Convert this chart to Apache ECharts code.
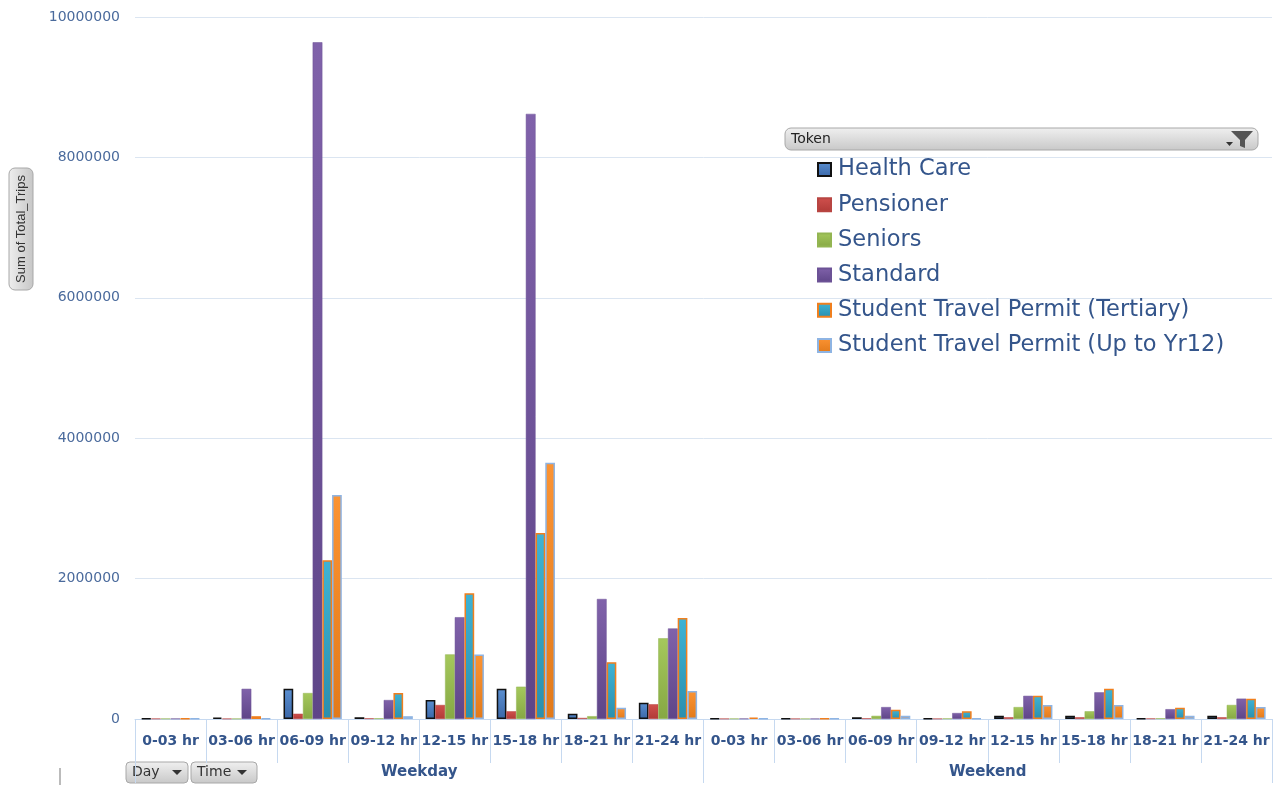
<!DOCTYPE html>
<html>
<head>
<meta charset="utf-8">
<title>Sum of Total_Trips by Token</title>
<script src="https://cdn.jsdelivr.net/npm/echarts@6/dist/echarts.min.js"></script>
<style>
  html, body { margin: 0; padding: 0; background: #ffffff; }
  #chart { width: 1283px; height: 785px; }
</style>
</head>
<body>
<div id="chart"></div>
<script>
// Time-of-day buckets, repeated for each day group
const timeSlots = ['0-03 hr', '03-06 hr', '06-09 hr', '09-12 hr', '12-15 hr', '15-18 hr', '18-21 hr', '21-24 hr'];
const dayGroups = ['Weekday', 'Weekend'];
const categories = dayGroups.flatMap(() => timeSlots);

const tokenNames = [
  'Health Care',
  'Pensioner',
  'Seniors',
  'Standard',
  'Student Travel Permit (Tertiary)',
  'Student Travel Permit (Up to Yr12)'
];

// Sum of Total_Trips: Weekday slots first, then Weekend slots
const healthCare = [8000, 20000, 430000, 25000, 270000, 430000, 75000, 230000, 8000, 6000, 25000, 10000, 45000, 45000, 10000, 45000];
const pensioner  = [6000, 5000, 75000, 10000, 200000, 110000, 15000, 210000, 5000, 5000, 10000, 5000, 25000, 25000, 8000, 25000];
const seniors    = [6000, 5000, 370000, 10000, 920000, 460000, 40000, 1150000, 6000, 5000, 45000, 8000, 170000, 110000, 10000, 200000];
const standard   = [6000, 430000, 9640000, 270000, 1450000, 8620000, 1710000, 1290000, 6000, 5000, 170000, 85000, 330000, 380000, 140000, 290000];
const tertiary   = [6000, 40000, 2260000, 370000, 1790000, 2650000, 810000, 1440000, 20000, 5000, 130000, 110000, 330000, 430000, 160000, 290000];
const upToYr12   = [6000, 10000, 3190000, 40000, 920000, 3650000, 160000, 400000, 6000, 5000, 45000, 10000, 200000, 200000, 45000, 170000];

const seriesValues = [healthCare, pensioner, seniors, standard, tertiary, upToYr12];

// Fill gradients and outlines per token
const barStyles = [
  { top: '#5b8fd0', bottom: '#3a67a8', border: '#111111', width: 1.5 },
  { top: '#d0504d', bottom: '#b03a37', border: '#b84542', width: 0.5 },
  { top: '#a5c85c', bottom: '#86a844', border: '#93b552', width: 0.5 },
  { top: '#8062aa', bottom: '#5e4588', border: '#6c5296', width: 0.5 },
  { top: '#3fb3d4', bottom: '#2a8fae', border: '#f07f1e', width: 1.5 },
  { top: '#fb9333', bottom: '#e27a1a', border: '#8eb4e3', width: 1.5 }
];

const chart = echarts.init(document.getElementById('chart'), null, { renderer: 'canvas' });

const series = tokenNames.map((name, i) => ({
  name: name,
  type: 'bar',
  xAxisIndex: 0,
  yAxisIndex: 0,
  barGap: '0%',
  barCategoryGap: '18%',
  data: seriesValues[i],
  itemStyle: {
    color: new echarts.graphic.LinearGradient(0, 0, 0, 1, [
      { offset: 0, color: barStyles[i].top },
      { offset: 1, color: barStyles[i].bottom }
    ]),
    borderColor: barStyles[i].border,
    borderWidth: barStyles[i].width
  },
  emphasis: { disabled: true }
}));

const btnGradient = new echarts.graphic.LinearGradient(0, 0, 0, 1, [
  { offset: 0, color: '#f0f0f0' },
  { offset: 1, color: '#c8c8c8' }
]);

function button(x, y, w, h, label, arrowX) {
  return {
    type: 'group',
    children: [
      { type: 'rect', shape: { x: x, y: y, width: w, height: h, r: 4 },
        style: { fill: btnGradient, stroke: '#a8a8a8', lineWidth: 1 } },
      { type: 'text', x: x + 6, y: y + h / 2,
        style: { text: label, font: '14px "DejaVu Sans"', fill: '#333333', verticalAlign: 'middle' } },
      { type: 'polygon', shape: { points: [[arrowX, y + 8], [arrowX + 10, y + 8], [arrowX + 5, y + 13]] },
        style: { fill: '#333333' } }
    ]
  };
}

const option = {
  backgroundColor: '#ffffff',
  animation: false,
  grid: { left: 135, right: 11, top: 17, bottom: 66, containLabel: false },
  legend: {
    orient: 'vertical',
    left: 812,
    top: 153,
    itemWidth: 13,
    itemHeight: 13,
    itemGap: 12.2,
    icon: 'rect',
    selectedMode: false,
    textStyle: {
      fontFamily: '"DejaVu Sans"',
      fontSize: 22.5,
      lineHeight: 22,
      color: '#34558b',
      padding: [0, 0, 0, 2]
    },
    data: tokenNames
  },
  xAxis: [
    {
      type: 'category',
      position: 'bottom',
      data: categories,
      axisLine: { show: true, lineStyle: { color: '#c6d9f0', width: 1 } },
      axisTick: { show: true, interval: 0, length: 44, lineStyle: { color: '#c6d9f0', width: 1 } },
      axisLabel: {
        interval: 0,
        margin: 15,
        fontFamily: '"DejaVu Sans"',
        fontSize: 14,
        fontWeight: 'bold',
        color: '#34558b'
      },
      splitLine: { show: false }
    },
    {
      type: 'category',
      position: 'bottom',
      data: dayGroups,
      axisLine: { show: false },
      axisTick: { show: true, interval: 0, length: 64, lineStyle: { color: '#c6d9f0', width: 1 } },
      axisLabel: {
        interval: 0,
        margin: 46,
        fontFamily: '"DejaVu Sans"',
        fontSize: 15,
        fontWeight: 'bold',
        color: '#34558b'
      },
      splitLine: { show: false }
    }
  ],
  yAxis: {
    type: 'value',
    min: 0,
    max: 10000000,
    interval: 2000000,
    axisLine: { show: false },
    axisTick: { show: false },
    axisLabel: {
      margin: 15,
      fontFamily: '"DejaVu Sans"',
      fontSize: 14,
      color: '#4a6a9c',
      formatter: (v) => String(v)
    },
    splitLine: { show: true, lineStyle: { color: '#dbe5f1', width: 1 } }
  },
  series: series,
  graphic: [
    // Vertical axis field button
    {
      type: 'rect',
      shape: { x: 9, y: 168, width: 24, height: 122, r: 6 },
      style: {
        fill: new echarts.graphic.LinearGradient(0, 0, 1, 0, [
          { offset: 0, color: '#eeeeee' },
          { offset: 1, color: '#c6c6c6' }
        ]),
        stroke: '#a8a8a8',
        lineWidth: 1
      }
    },
    {
      type: 'text',
      x: 21,
      y: 229,
      rotation: Math.PI / 2,
      style: {
        text: 'Sum of Total_Trips',
        font: '13px "Liberation Sans"',
        fill: '#333333',
        align: 'center',
        verticalAlign: 'middle'
      }
    },
    // Token legend field header with filter icon
    {
      type: 'rect',
      shape: { x: 785, y: 128, width: 473, height: 22, r: 6 },
      style: { fill: btnGradient, stroke: '#a8a8a8', lineWidth: 1 }
    },
    {
      type: 'text',
      x: 791,
      y: 139,
      style: { text: 'Token', font: '14px "DejaVu Sans"', fill: '#222222', verticalAlign: 'middle' }
    },
    {
      type: 'polygon',
      shape: { points: [[1231, 131], [1253, 131], [1245, 140], [1245, 148], [1240, 146], [1240, 140]] },
      style: { fill: '#555555' }
    },
    {
      type: 'polygon',
      shape: { points: [[1226, 142], [1233, 142], [1229.5, 146]] },
      style: { fill: '#333333' }
    },
    // Row field buttons
    button(126, 762, 62, 21, 'Day', 172),
    button(191, 762, 66, 21, 'Time', 237),
    {
      type: 'line',
      shape: { x1: 60, y1: 768, x2: 60, y2: 785 },
      style: { stroke: '#bbbbbb', lineWidth: 2 }
    }
  ]
};

chart.setOption(option);
</script>
</body>
</html>
